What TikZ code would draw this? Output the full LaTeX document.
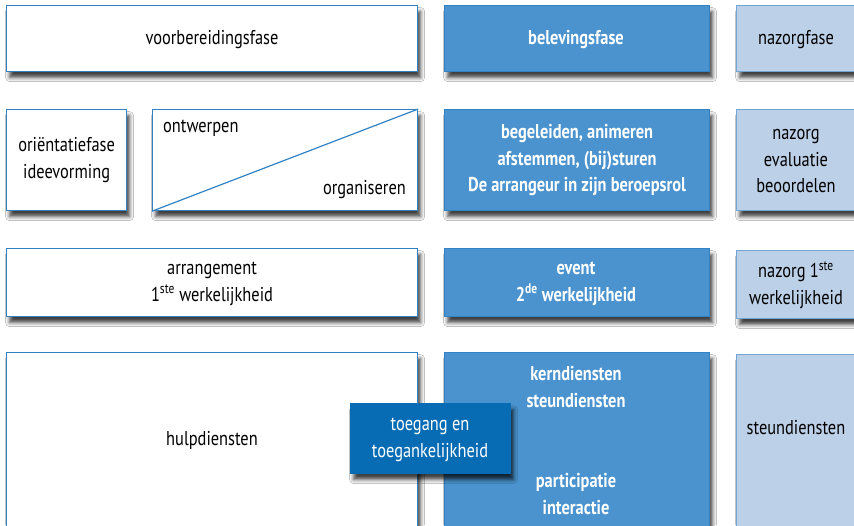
\documentclass[tikz,border=0pt]{standalone}
\usepackage{fontspec}
\setmainfont{PT Sans}[FakeStretch=0.82]
\usetikzlibrary{shadows.blur}
\definecolor{midblue}{RGB}{74,147,206}
\definecolor{lightblue}{RGB}{188,208,232}
\definecolor{darkblue}{RGB}{8,108,180}
\definecolor{edgeblue}{RGB}{50,130,198}
\tikzset{
  base/.style={draw=edgeblue, line width=1.2pt, anchor=north west, inner sep=0pt,
    blur shadow={shadow xshift=3pt, shadow yshift=-6pt, shadow blur radius=4pt, shadow opacity=75},
    align=center, font=\fontsize{20}{26.5}\selectfont},
  wbox/.style={base, fill=white, text=black},
  mbox/.style={base, fill=midblue, text=white, font=\fontsize{20}{26.5}\selectfont\bfseries},
  lbox/.style={base, fill=lightblue, text=black, draw=edgeblue!70},
  tbox/.style={base, fill=darkblue, draw=darkblue, text=white},
  lbl/.style={inner sep=0pt, font=\fontsize{20}{26.5}\selectfont, align=center}
}
\begin{document}
\begin{tikzpicture}[x=1pt,y=-1pt]
\useasboundingbox (0,0) rectangle (854,525);
\clip (0,0) rectangle (854,525);
\fill[white] (0,0) rectangle (854,525);
% row 1
\node[wbox, minimum width=411pt, minimum height=66pt] (vb) at (6,5) {};
\node[lbl] (vbt) at (212,40) {voorbereidingsfase};
\node[mbox, minimum width=265pt, minimum height=66pt] (bf) at (444,5) {};
\node[lbl, text=white, font=\fontsize{20}{26.5}\selectfont\bfseries] (bft) at (576,40) {belevingsfase};
\node[lbox, minimum width=130pt, minimum height=66pt] (nf) at (736,5) {};
\node[lbl] (nft) at (796,40) {nazorgfase};
% row 2
\node[wbox, minimum width=120pt, minimum height=101pt] (or) at (6,109) {oriëntatiefase\\ideevorming};
\node[wbox, minimum width=265pt, minimum height=101pt] (ow) at (152,109) {};
\draw[edgeblue, line width=1.2pt] (ow.south west) -- (ow.north east);
\node[lbl, anchor=west] (owt) at (163,128) {ontwerpen};
\node[lbl, anchor=east] (org) at (406,190) {organiseren};
\node[mbox, minimum width=265pt, minimum height=101pt] (bg) at (444,109) {begeleiden, animeren\\afstemmen, (bij)sturen\\De arrangeur in zijn beroepsrol};
\node[lbox, minimum width=130pt, minimum height=101pt] (nz) at (736,109) {};
\node[lbl] (nzt) at (796,161) {nazorg\\evaluatie\\beoordelen};
% row 3
\node[wbox, minimum width=411pt, minimum height=68pt] (ar) at (6,248) {};
\node[lbl] (art) at (212,284) {arrangement\\1\textsuperscript{ste} werkelijkheid};
\node[mbox, minimum width=265pt, minimum height=68pt] (ev) at (444,248) {};
\node[lbl, text=white, font=\fontsize{20}{26.5}\selectfont\bfseries] (evt) at (576,284) {event\\2\textsuperscript{de} werkelijkheid};
\node[lbox, minimum width=130pt, minimum height=68pt] (n1) at (736,250) {};
\node[lbl] (n1t) at (796,285) {nazorg 1\textsuperscript{ste}\\werkelijkheid};
% row 4
\node[wbox, minimum width=411pt, minimum height=190pt] (hd) at (6,352) {};
\node[lbl] (hdt) at (212,440) {hulpdiensten};
\node[mbox, minimum width=265pt, minimum height=190pt] (kd) at (444,352) {};
\node[lbl, text=white, font=\fontsize{20}{26.5}\selectfont\bfseries] (kdt) at (576,387) {kerndiensten\\steundiensten};
\node[lbl, text=white, font=\fontsize{20}{26.5}\selectfont\bfseries] (pit) at (576,494) {participatie\\interactie};
\node[lbox, minimum width=130pt, minimum height=190pt] (sd) at (736,354) {};
\node[lbl] (sdt) at (796,428) {steundiensten};
% overlay
\node[tbox, minimum width=160pt, minimum height=70pt] (tg) at (350,403) {};
\node[lbl, text=white] (tgt) at (430,440) {toegang en\\toegankelijkheid};
\end{tikzpicture}
\end{document}
